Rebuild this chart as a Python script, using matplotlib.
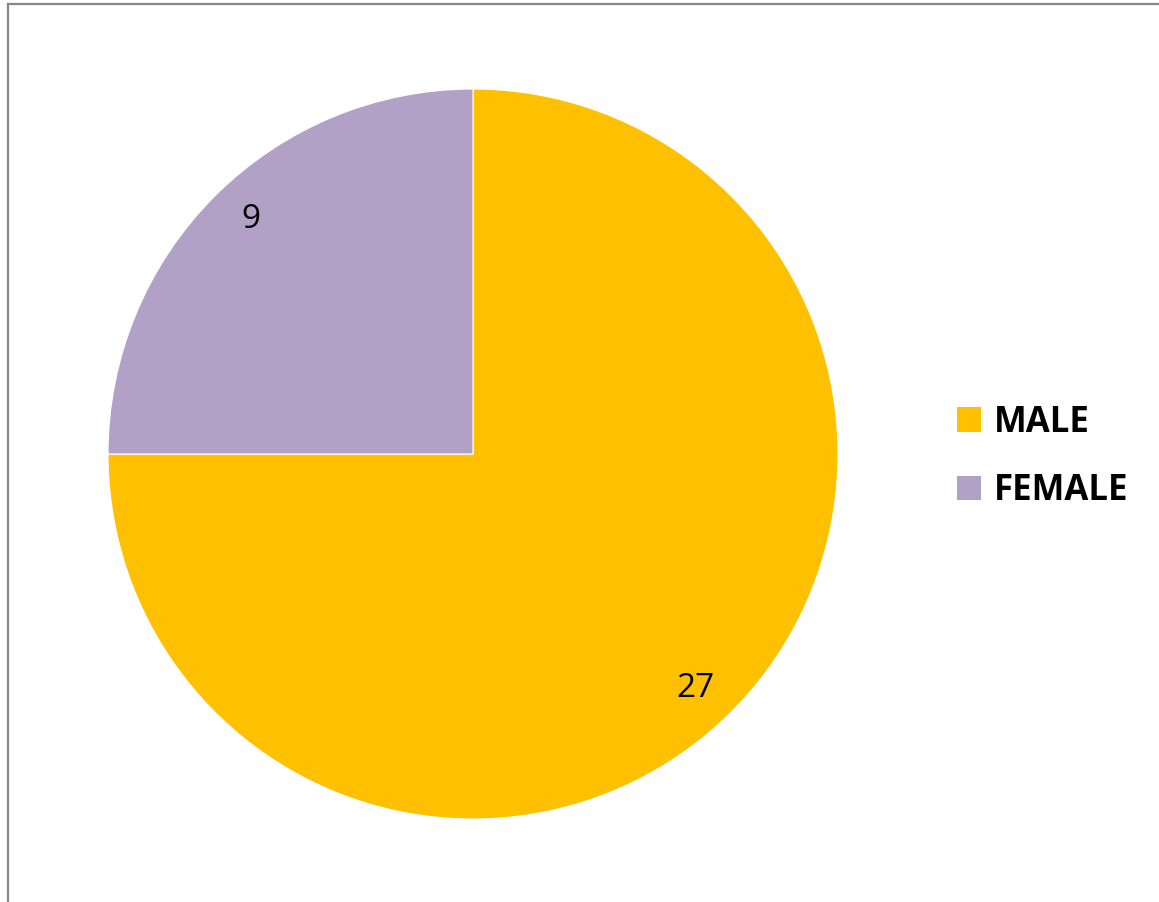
import matplotlib
matplotlib.use("Agg")
import matplotlib.pyplot as plt
from matplotlib.lines import Line2D
from matplotlib.patches import Patch

categories = ["MALE", "FEMALE"]
counts = [27, 9]
colors = ["#FFC000", "#B2A1C7"]

W, H = 1159, 902
fig = plt.figure(figsize=(W / 100, H / 100), dpi=100)
fig.patch.set_facecolor("white")

# chart area border (only left and top edges are visible)
fig.add_artist(Line2D([7.5 / W, 7.5 / W], [0, 1 - 3.5 / H], color="#878787", lw=1.6))
fig.add_artist(Line2D([7.5 / W, 1], [1 - 3.5 / H, 1 - 3.5 / H], color="#878787", lw=1.6))

cx, cy, r = 473, 454, 365
shift = -1.5  # labels sit slightly clockwise of the wedge middles
ax = fig.add_axes([(cx - r) / W, (H - cy - r) / H, 2 * r / W, 2 * r / H])
wedges, texts = ax.pie(counts, colors=colors, startangle=90 + shift, counterclock=False,
                       labels=[str(c) for c in counts], labeldistance=0.885,
                       wedgeprops=dict(edgecolor="white", linewidth=0.8),
                       textprops=dict(fontsize=24, family="Open Sans", color="black"))
for t in texts:
    t.set_horizontalalignment("center")
    t.set_verticalalignment("center")
# put the wedges back on the quarter boundaries
for w in wedges:
    w.set_theta1(w.theta1 - shift)
    w.set_theta2(w.theta2 - shift)
ax.set_xlim(-1, 1)
ax.set_ylim(-1, 1)
ax.set_aspect("equal")
ax.axis("off")

handles = [Patch(facecolor=c, edgecolor="none") for c in colors]
fig.legend(handles, categories, loc="center left", bbox_to_anchor=(957 / W, 1 - 457 / H),
           frameon=False, borderpad=0, borderaxespad=0,
           handlelength=0.7, handleheight=0.7, handletextpad=0.35, labelspacing=0.95,
           prop=dict(family="Open Sans", weight="bold", size=25))

fig.savefig("out.png", dpi=100)
